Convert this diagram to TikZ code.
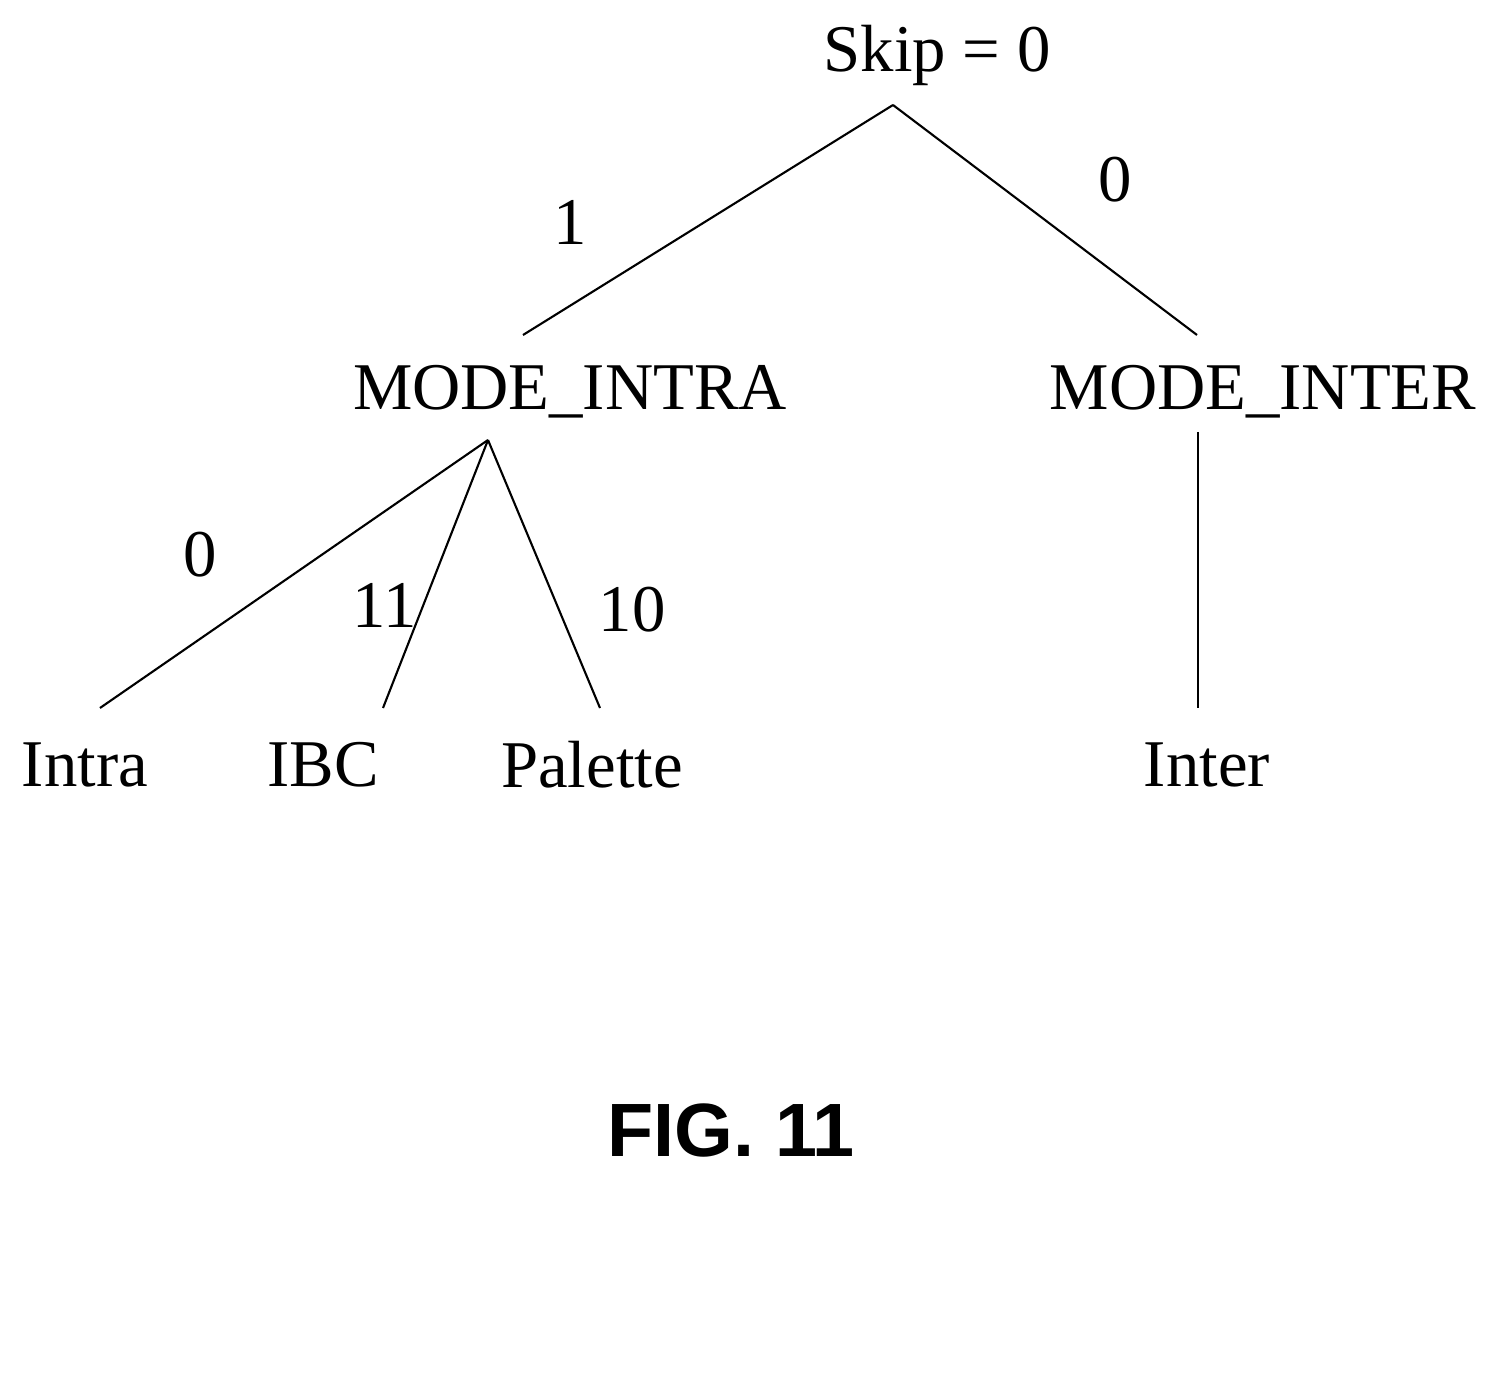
\documentclass[tikz,border=0pt]{standalone}
\usepackage{fontspec}
\setmainfont{Liberation Serif}
\newfontfamily\figfont{Liberation Sans}

\begin{document}
\begin{tikzpicture}[x=0.02cm, y=-0.02cm, every node/.style={font=\fontsize{38}{40}\selectfont, inner sep=0pt}, every path/.style={line width=1.2pt}]
        \useasboundingbox (0,0) rectangle (1502,1378);

        \node (skip) at (937,55) {Skip = 0};
        \node (mintra) at (570,392) {MODE\_INTRA};
        \node (minter) at (1263,392) {MODE\_INTER};
        \node (intra) at (85,765) {Intra};
        \node (ibc) at (323,765) {IBC};
        \node (palette) at (592,765) {Palette};
        \node (inter) at (1207,765) {Inter};

        \coordinate (s) at (893,105);
        \coordinate (mia) at (523,335);
        \coordinate (mea) at (1197,335);
        \coordinate (mib) at (488,440);
        \coordinate (meb) at (1198,432);
        \coordinate (ia) at (100,708);
        \coordinate (ba) at (383,708);
        \coordinate (pa) at (600,708);
        \coordinate (ea) at (1198,708);

        \draw (s) -- (mia);
        \draw (s) -- (mea);
        \draw (mib) -- (ia);
        \draw (mib) -- (ba);
        \draw (mib) -- (pa);
        \draw (meb) -- (ea);

        \node (l1) at (570,222) {1};
        \node (l0a) at (1115,180) {0};
        \node (l0b) at (200,555) {0};
        \node (l11) at (385,605) {11};
        \node (l10) at (632,610) {10};

        \node (fig) at (731,1130) {\figfont\bfseries\fontsize{43}{45}\selectfont FIG. 11};
\end{tikzpicture}
\end{document}
